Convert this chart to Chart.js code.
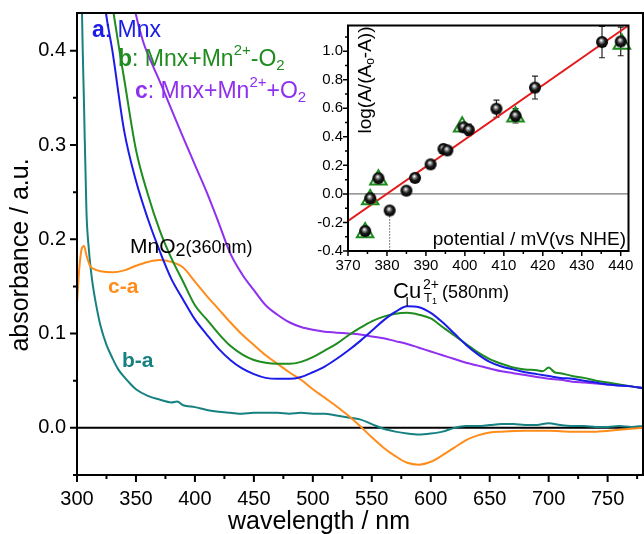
<!DOCTYPE html>
<html>
<head>
<meta charset="utf-8">
<script src="https://cdn.jsdelivr.net/npm/chart.js@4.4.1/dist/chart.umd.min.js"></script>
<style>
  html, body { margin: 0; padding: 0; background: #fff; }
  #wrap { position: relative; width: 644px; height: 534px; overflow: hidden; }
  #main { position: absolute; left: 0; top: 0; }
  #inset { position: absolute; left: 308px; top: 14px; }
</style>
</head>
<body>
<div id="wrap">
  <canvas id="main" width="644" height="534"></canvas>
  <canvas id="inset" width="332" height="262"></canvas>
</div>
<script>
// ---- main spectra (wavelength nm / absorbance) ----
// a: Mnx
const wlA  = [312, 318, 324, 330, 340, 350, 360, 370, 380, 390, 400, 410, 420, 430, 440, 450, 460, 470, 480, 490,
              500, 510, 520, 530, 540, 550, 560, 570, 580, 590, 600, 610, 620, 630, 640, 650, 660, 670, 680, 690,
              700, 710, 720, 730, 740, 750, 760, 770, 780];
const absA = [0.62, 0.52, 0.445, 0.40, 0.315, 0.262, 0.222, 0.188, 0.158, 0.136, 0.115, 0.099, 0.084, 0.072, 0.063, 0.057, 0.053, 0.052, 0.052, 0.054,
              0.059, 0.065, 0.073, 0.082, 0.092, 0.103, 0.114, 0.123, 0.129, 0.128, 0.122, 0.112, 0.100, 0.088, 0.078, 0.070, 0.065, 0.062, 0.059, 0.057,
              0.055, 0.053, 0.052, 0.050, 0.048, 0.046, 0.045, 0.044, 0.042];
// b: Mnx+Mn2+-O2
const wlB  = [318, 324, 330, 336, 340, 350, 360, 370, 380, 390, 400, 410, 420, 430, 440, 450, 460, 470, 480, 490,
              500, 510, 520, 530, 540, 550, 560, 570, 580, 590, 600, 610, 620, 630, 640, 650, 660, 670, 680, 690,
              695, 700, 705, 710, 720, 730, 740, 750, 760, 770, 780];
const absB = [0.60, 0.50, 0.448, 0.40, 0.37, 0.295, 0.248, 0.21, 0.18, 0.155, 0.13, 0.115, 0.10, 0.087, 0.078, 0.072, 0.069, 0.068, 0.068, 0.070,
              0.075, 0.082, 0.089, 0.098, 0.106, 0.113, 0.118, 0.121, 0.122, 0.120, 0.116, 0.107, 0.098, 0.089, 0.080, 0.073, 0.068, 0.064, 0.062, 0.061,
              0.060, 0.064, 0.059, 0.058, 0.055, 0.053, 0.050, 0.048, 0.046, 0.044, 0.042];
// c: Mnx+Mn2++O2
const wlC  = [336, 342, 348, 356, 364, 370, 380, 390, 400, 410, 420, 430, 440, 450, 460, 470, 480, 490,
              500, 510, 520, 530, 540, 550, 560, 570, 580, 590, 600, 610, 620, 630, 640, 650, 660, 670, 680, 690,
              700, 710, 720, 730, 740, 750, 760, 770, 780];
const absC = [0.56, 0.50, 0.45, 0.41, 0.385, 0.368, 0.338, 0.308, 0.279, 0.25, 0.218, 0.185, 0.163, 0.146, 0.13, 0.12, 0.112, 0.107,
              0.104, 0.102, 0.101, 0.100, 0.099, 0.097, 0.095, 0.092, 0.089, 0.085, 0.081, 0.077, 0.073, 0.069, 0.066, 0.063, 0.060, 0.058, 0.056, 0.054,
              0.052, 0.051, 0.049, 0.048, 0.047, 0.046, 0.045, 0.044, 0.042];
// c-a difference
const wlCA  = [300, 302, 304, 306, 308, 311, 315, 320, 330, 340, 350, 360, 370, 380, 390, 400, 410, 420, 430, 440,
               450, 460, 470, 480, 490, 500, 510, 520, 530, 540, 550, 560, 570, 580, 590, 600, 610, 620, 630, 640,
               650, 660, 680, 700, 720, 740, 760, 780];
const absCA = [0.132, 0.17, 0.19, 0.193, 0.183, 0.172, 0.168, 0.166, 0.165, 0.167, 0.172, 0.176, 0.178, 0.176, 0.17, 0.155, 0.14, 0.126, 0.112, 0.099,
               0.088, 0.077, 0.068, 0.059, 0.051, 0.041, 0.032, 0.023, 0.013, 0.002, -0.010, -0.021, -0.030, -0.037, -0.039, -0.036, -0.029, -0.021, -0.013, -0.008,
               -0.005, -0.004, -0.003, -0.003, -0.004, -0.004, -0.002, 0.0];
// b-a difference
const wlBA  = [300, 302, 304, 306, 308, 310, 313, 316, 320, 325, 330, 335, 340, 345, 350, 360, 370, 380, 385, 390,
               400, 410, 420, 430, 440, 450, 460, 470, 480, 490, 500, 510, 520, 530, 540, 550, 560, 570, 580, 590,
               600, 610, 620, 630, 640, 650, 660, 670, 680, 690, 700, 710, 720, 730, 740, 750, 760, 770, 780];
const absBA = [1.2, 0.7, 0.46, 0.34, 0.23, 0.19, 0.155, 0.132, 0.108, 0.088, 0.074, 0.062, 0.054, 0.047, 0.041, 0.034, 0.030, 0.027, 0.028, 0.024,
               0.022, 0.019, 0.017, 0.016, 0.015, 0.016, 0.016, 0.016, 0.015, 0.016, 0.015, 0.015, 0.013, 0.011, 0.009, 0.004, -0.001, -0.004, -0.006, -0.007,
               -0.006, -0.004, 0.0, 0.002, 0.002, 0.003, 0.004, 0.004, 0.003, 0.003, 0.005, 0.003, 0.002, 0.002, 0.001, 0.001, 0.002, 0.001, 0.002];
const mainXTicks = [300, 325, 350, 375, 400, 425, 450, 475, 500, 525, 550, 575, 600, 625, 650, 675, 700, 725, 750, 775];
const mainYTicks = [-0.05, 0, 0.05, 0.1, 0.15, 0.2, 0.25, 0.3, 0.35, 0.4];

// ---- inset: log(A/(A0-A)) vs potential ----
const circX   = [374.4, 375.7, 377.8, 380.7, 385.0, 387.2, 391.2, 394.5, 395.5, 399.6, 401.0, 408.1, 413.0, 418.0, 435.2, 440.0];
const circY   = [-0.26, -0.03, 0.11, -0.116, 0.023, 0.112, 0.207, 0.315, 0.305, 0.467, 0.449, 0.597, 0.547, 0.745, 1.064, 1.068];
const circErr = [0, 0, 0, 0, 0, 0, 0, 0, 0, 0, 0.04, 0.06, 0.05, 0.08, 0.11, 0.10];
const triX = [374.4, 375.7, 377.8, 399.3, 413.0, 440.3];
const triY = [-0.27, -0.04, 0.10, 0.47, 0.54, 1.05];
const fitX = [370, 442];
const fitY = [-0.19, 1.18];
const dropX = [380.7, 380.7];
const dropY = [-0.116, -0.4];
const insetXTicks = [370, 375, 380, 385, 390, 395, 400, 405, 410, 415, 420, 425, 430, 435, 440];
const insetYTicks = [-0.4, -0.3, -0.2, -0.1, 0, 0.1, 0.2, 0.3, 0.4, 0.5, 0.6, 0.7, 0.8, 0.9, 1.0, 1.1];

const FONT = '"Liberation Sans", Arial, sans-serif';
const BLUE = '#1c1ce8', GREEN = '#1e8c1e', PURPLE = '#8f2ff0', ORANGE = '#ff8c1a', TEAL = '#178080', RED = '#e41a1a';

const xy = (xs, ys) => xs.map((v, i) => ({ x: v, y: ys[i] }));
const setTicks = list => s => { s.ticks = list.map(v => ({ value: v })); };
// fixed axis box size, and no extra label overhang padding
const fixSize = (key, size) => s => {
  s[key] = size;
  s.paddingTop = s.paddingBottom = s.paddingLeft = s.paddingRight = 0;
};
function isMajor(v, step) { const r = v / step; return Math.abs(r - Math.round(r)) < 1e-6; }
function fmt(v) { return (Math.abs(v) < 1e-9 ? 0 : v).toFixed(1); }

// frame box, zero line and outward tick marks
const frameTicks = {
  id: 'frameTicks',
  beforeDatasetsDraw(chart, args, o) {
    const { ctx, chartArea: a, scales: { y } } = chart;
    const py = y.getPixelForValue(0);
    ctx.save();
    ctx.strokeStyle = o.zeroColor;
    ctx.lineWidth = o.zeroWidth;
    ctx.beginPath(); ctx.moveTo(a.left, py); ctx.lineTo(a.right, py); ctx.stroke();
    ctx.restore();
  },
  afterDatasetsDraw(chart, args, o) {
    const { ctx, chartArea: a, scales: { x, y } } = chart;
    ctx.save();
    ctx.strokeStyle = '#000';
    ctx.lineWidth = o.tickWidth;
    ctx.beginPath();
    x.ticks.forEach(t => {
      const px = x.getPixelForValue(t.value);
      const len = isMajor(t.value, o.xMajor) ? o.major : o.minor;
      ctx.moveTo(px, a.bottom); ctx.lineTo(px, a.bottom + len);
    });
    y.ticks.forEach(t => {
      const py = y.getPixelForValue(t.value);
      const len = isMajor(t.value, o.yMajor) ? o.major : o.minor;
      ctx.moveTo(a.left, py); ctx.lineTo(a.left - len, py);
    });
    ctx.stroke();
    ctx.lineWidth = o.frameWidth;
    ctx.strokeRect(a.left, a.top, a.right - a.left, a.bottom - a.top);
    ctx.restore();
  }
};

function drawRich(ctx, x, y, parts) {
  parts.forEach(p => {
    ctx.font = p.font;
    ctx.fillStyle = p.color || '#000';
    ctx.fillText(p.t, x, y + (p.dy || 0));
    x += ctx.measureText(p.t).width;
  });
  return x;
}

const mainLabels = {
  id: 'mainLabels',
  afterDraw(chart) {
    const { ctx, scales: { x, y } } = chart;
    ctx.save();
    ctx.textBaseline = 'alphabetic';
    ctx.textAlign = 'left';
    const f = (s, b) => (b ? 'bold ' : '') + s + 'px ' + FONT;
    drawRich(ctx, 92, 37, [{ t: 'a', font: f(23, true), color: BLUE }, { t: ': Mnx', font: f(23), color: BLUE }]);
    drawRich(ctx, 118, 66, [
      { t: 'b', font: f(23, true), color: GREEN }, { t: ': Mnx+Mn', font: f(23), color: GREEN },
      { t: '2+', font: f(15), color: GREEN, dy: -11 }, { t: '-O', font: f(23), color: GREEN },
      { t: '2', font: f(15), color: GREEN, dy: 4 }]);
    drawRich(ctx, 135, 98, [
      { t: 'c', font: f(23, true), color: PURPLE }, { t: ': Mnx+Mn', font: f(23), color: PURPLE },
      { t: '2+', font: f(15), color: PURPLE, dy: -11 }, { t: '+O', font: f(23), color: PURPLE },
      { t: '2', font: f(15), color: PURPLE, dy: 4 }]);
    drawRich(ctx, 130, 253, [{ t: 'MnO', font: f(21) }, { t: '2', font: f(18), dy: 3 }, { t: '(360nm)', font: f(18) }]);
    drawRich(ctx, 108, 293, [{ t: 'c-a', font: f(21, true), color: ORANGE }]);
    drawRich(ctx, 122, 367, [{ t: 'b-a', font: f(21, true), color: TEAL }]);
    // Cu T1 label
    drawRich(ctx, 393, 298, [{ t: 'Cu', font: f(22) }]);
    drawRich(ctx, 423, 289, [{ t: '2+', font: f(14) }]);
    drawRich(ctx, 424, 302, [{ t: 'T', font: f(13) }, { t: '1', font: f(9), dy: 2 }]);
    drawRich(ctx, 442, 298, [{ t: '(580nm)', font: f(18) }]);
    const px = x.getPixelForValue(580);
    ctx.strokeStyle = '#000'; ctx.lineWidth = 1.2;
    ctx.beginPath(); ctx.moveTo(px, 297); ctx.lineTo(px, y.getPixelForValue(0.129)); ctx.stroke();
    // axis titles
    ctx.font = f(25); ctx.fillStyle = '#000'; ctx.textAlign = 'center';
    ctx.fillText('wavelength / nm', 319, 529);
    ctx.translate(28, 255); ctx.rotate(-Math.PI / 2);
    ctx.fillText('absorbance / a.u.', 0, 0);
    ctx.restore();
  }
};

const insetLabels = {
  id: 'insetLabels',
  afterDraw(chart) {
    const { ctx } = chart;
    ctx.save();
    ctx.textBaseline = 'alphabetic';
    ctx.fillStyle = '#000';
    ctx.font = '19px ' + FONT; ctx.textAlign = 'right';
    ctx.fillText('potential / mV(vs NHE)', 318, 231);
    ctx.textAlign = 'left';
    ctx.translate(63, 66); ctx.rotate(-Math.PI / 2);
    const parts = [{ t: 'log(A/(A', font: '19px ' + FONT }, { t: 'o', font: '12px ' + FONT, dy: 3 }, { t: '-A))', font: '19px ' + FONT }];
    let w = 0;
    parts.forEach(p => { ctx.font = p.font; w += ctx.measureText(p.t).width; });
    drawRich(ctx, -w / 2, 0, parts);
    ctx.restore();
  }
};

const errorBars = {
  id: 'errorBars',
  beforeDatasetsDraw(chart) {
    const { ctx, scales: { x, y } } = chart;
    ctx.save();
    ctx.strokeStyle = '#222'; ctx.lineWidth = 1.2;
    ctx.beginPath();
    circX.forEach((v, i) => {
      const e = circErr[i];
      if (!e) return;
      const px = x.getPixelForValue(v), top = y.getPixelForValue(circY[i] + e), bot = y.getPixelForValue(circY[i] - e);
      ctx.moveTo(px, top); ctx.lineTo(px, bot);
      ctx.moveTo(px - 3, top); ctx.lineTo(px + 3, top);
      ctx.moveTo(px - 3, bot); ctx.lineTo(px + 3, bot);
    });
    ctx.stroke();
    ctx.restore();
  }
};

function ballImage(r) {
  const c = document.createElement('canvas');
  c.width = c.height = 2 * r + 2;
  const g = c.getContext('2d');
  const cx = r + 1;
  const grad = g.createRadialGradient(cx - r * 0.15, cx - r * 0.3, 0.3, cx, cx, r);
  grad.addColorStop(0, '#ffffff');
  grad.addColorStop(0.25, '#8a8a8a');
  grad.addColorStop(0.55, '#1a1a1a');
  grad.addColorStop(1, '#000000');
  g.fillStyle = grad;
  g.beginPath(); g.arc(cx, cx, r, 0, Math.PI * 2); g.fill();
  return c;
}

const line = (xs, ys, color) => ({ data: xy(xs, ys), borderColor: color, borderWidth: 2, pointRadius: 0, cubicInterpolationMode: 'monotone', fill: false });

new Chart(document.getElementById('main'), {
  type: 'line',
  data: {
    datasets: [
      line(wlA, absA, BLUE),
      line(wlB, absB, GREEN),
      line(wlC, absC, PURPLE),
      line(wlCA, absCA, ORANGE),
      line(wlBA, absBA, TEAL)
    ]
  },
  options: {
    responsive: false,
    animation: false,
    layout: { padding: { top: 13, right: 1, left: 0, bottom: 0 } },
    plugins: {
      legend: { display: false },
      tooltip: { enabled: false },
      frameTicks: { xMajor: 50, yMajor: 0.1, major: 7, minor: 4, tickWidth: 2, frameWidth: 2, zeroColor: '#000', zeroWidth: 2 }
    },
    scales: {
      x: {
        type: 'linear', min: 300, max: 780,
        grid: { display: false, drawTicks: false }, border: { display: false },
        afterBuildTicks: setTicks(mainXTicks),
        afterFit: fixSize('height', 59),
        ticks: { autoSkip: false, maxRotation: 0, padding: 12, color: '#000',
                 font: { family: FONT, size: 20 }, callback: v => isMajor(v, 50) ? String(v) : '' }
      },
      y: {
        type: 'linear', min: -0.05, max: 0.44,
        grid: { display: false, drawTicks: false }, border: { display: false },
        afterBuildTicks: setTicks(mainYTicks),
        afterFit: fixSize('width', 77),
        ticks: { autoSkip: false, padding: 11, color: '#000',
                 font: { family: FONT, size: 20 }, callback: v => isMajor(v, 0.1) ? fmt(v) : '' }
      }
    }
  },
  plugins: [frameTicks, mainLabels]
});

new Chart(document.getElementById('inset'), {
  type: 'scatter',
  data: {
    datasets: [
      { data: xy(circX, circY), pointStyle: ballImage(6), pointRadius: 6, order: 0, clip: 10 },
      { data: xy(triX, triY), pointStyle: 'triangle', pointRadius: 9.5, borderColor: GREEN, borderWidth: 2,
        backgroundColor: 'rgba(0,0,0,0)', order: 1, clip: 10 },
      { type: 'line', data: xy(fitX, fitY), borderColor: RED, borderWidth: 2, pointRadius: 0, order: 2 },
      { type: 'line', data: xy(dropX, dropY), borderColor: '#000', borderWidth: 1, borderDash: [1, 2], pointRadius: 0, order: 3 }
    ]
  },
  options: {
    responsive: false,
    animation: false,
    layout: { padding: { top: 6, right: 6.5, left: 0, bottom: 0 } },
    plugins: {
      legend: { display: false },
      tooltip: { enabled: false },
      frameTicks: { xMajor: 10, yMajor: 0.2, major: 5, minor: 3, tickWidth: 1.5, frameWidth: 2, zeroColor: '#555', zeroWidth: 1 }
    },
    scales: {
      x: {
        type: 'linear', min: 370, max: 442,
        grid: { display: false, drawTicks: false }, border: { display: false },
        afterBuildTicks: setTicks(insetXTicks),
        afterFit: fixSize('height', 25),
        ticks: { autoSkip: false, maxRotation: 0, padding: 6, color: '#000',
                 font: { family: FONT, size: 15 }, callback: v => isMajor(v, 10) ? String(v) : '' }
      },
      y: {
        type: 'linear', min: -0.4, max: 1.18,
        grid: { display: false, drawTicks: false }, border: { display: false },
        afterBuildTicks: setTicks(insetYTicks),
        afterFit: fixSize('width', 40),
        ticks: { autoSkip: false, padding: 5, color: '#000',
                 font: { family: FONT, size: 15 }, callback: v => isMajor(v, 0.2) ? fmt(v) : '' }
      }
    }
  },
  plugins: [frameTicks, errorBars, insetLabels]
});
</script>
</body>
</html>
